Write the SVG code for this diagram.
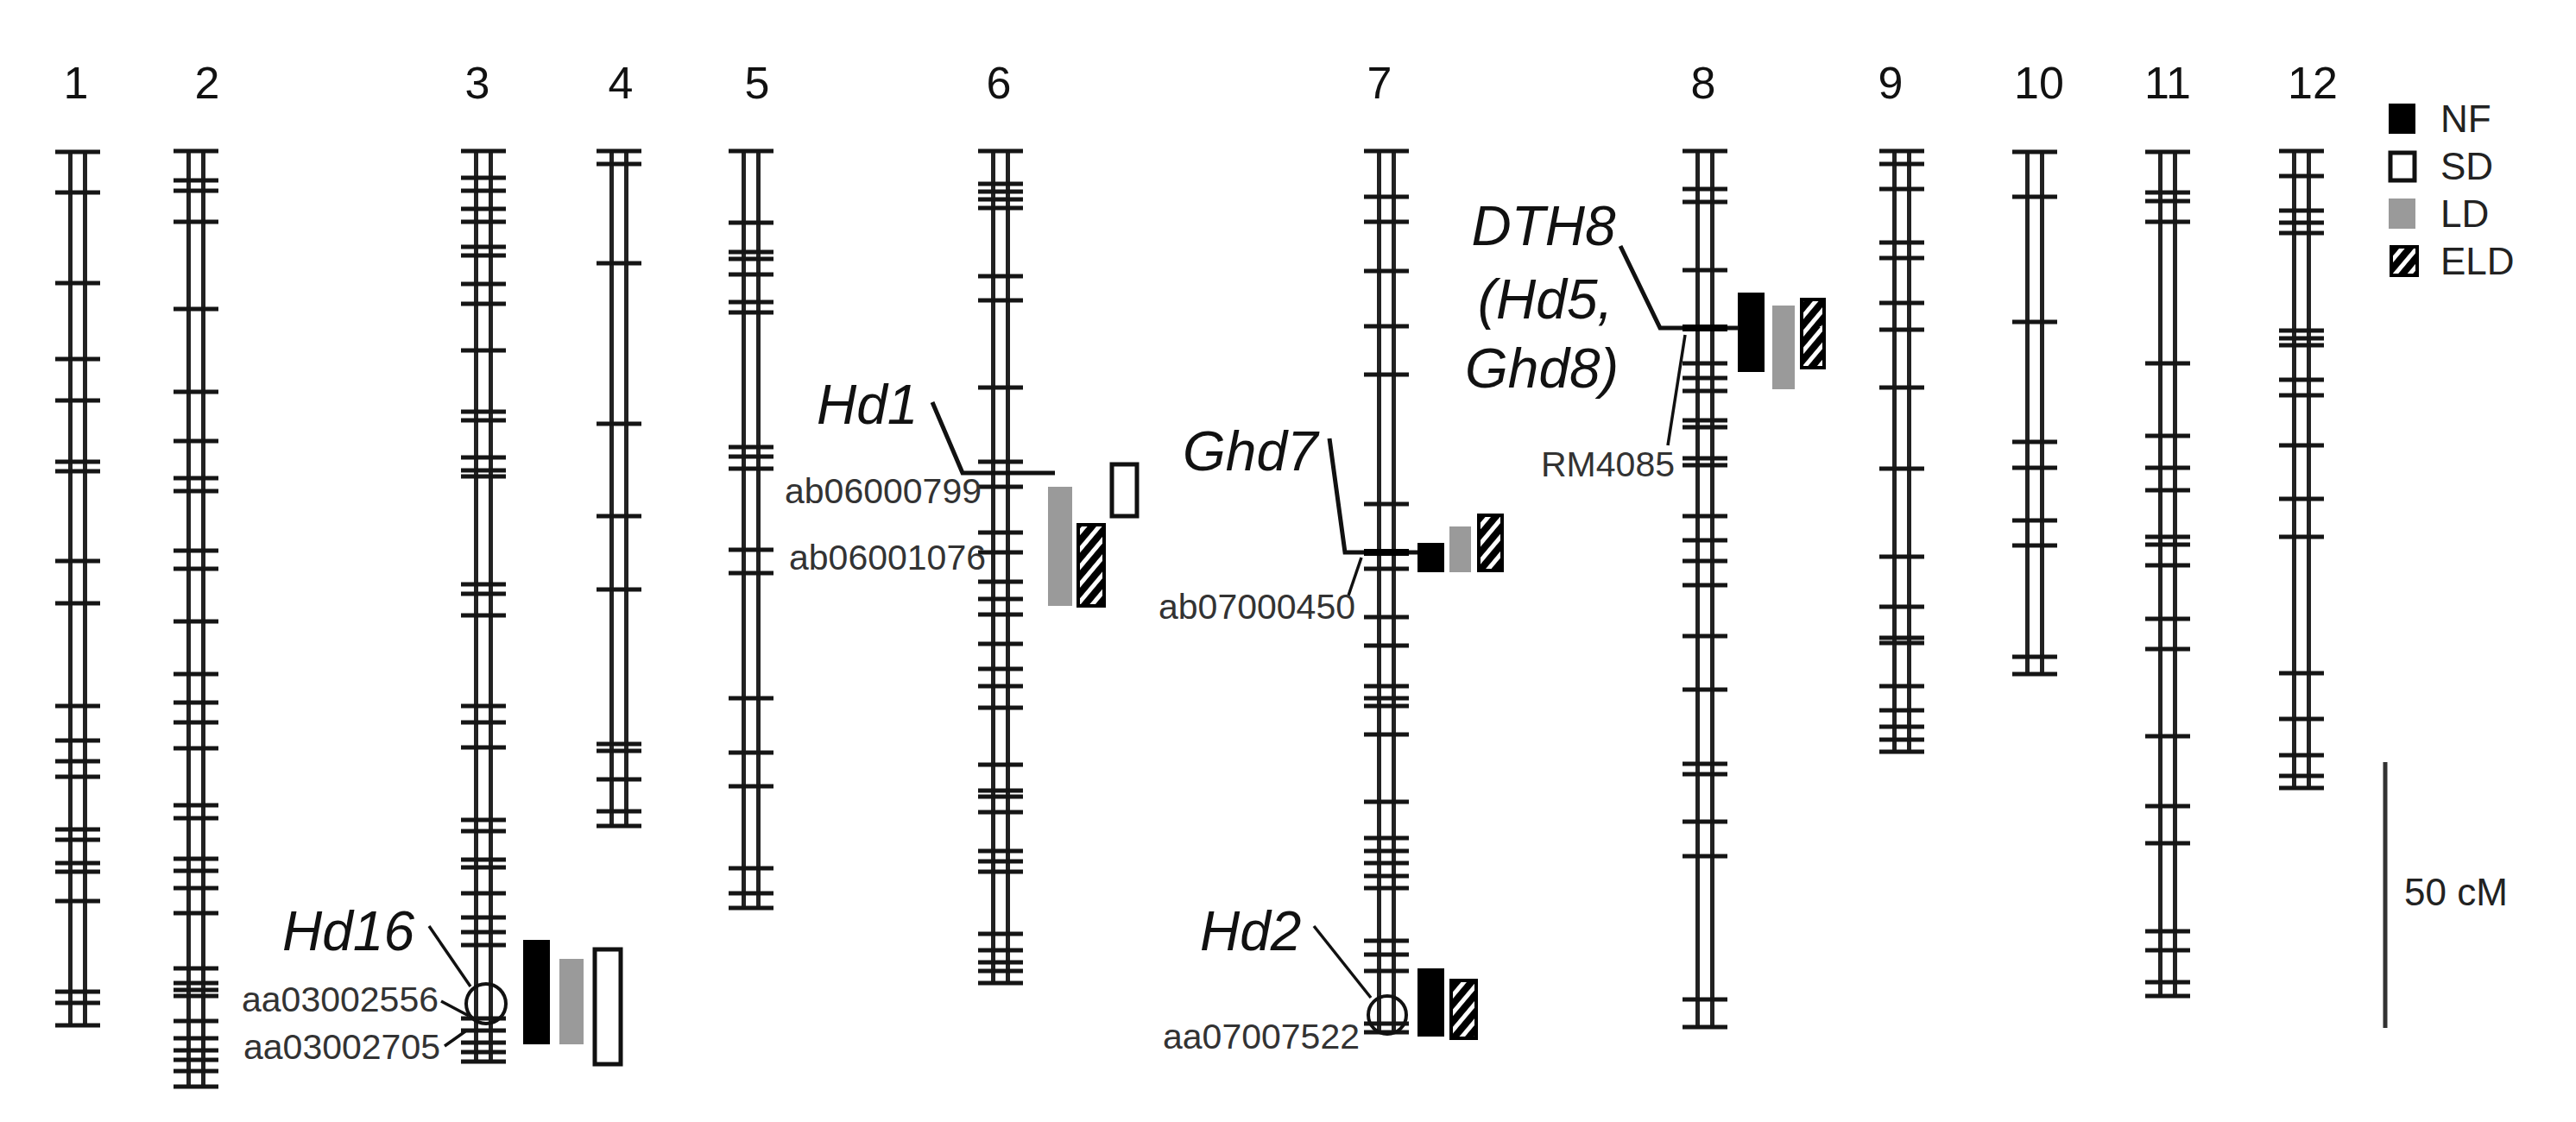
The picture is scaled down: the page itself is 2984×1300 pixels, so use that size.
<svg xmlns="http://www.w3.org/2000/svg" width="2984" height="1300" viewBox="0 0 2984 1300">
<style>
.rail{stroke:#222;stroke-width:5;fill:none}
.tick{stroke:#151515;stroke-width:5;fill:none}
.num{font-family:"Liberation Sans",Arial,sans-serif;font-size:52px;fill:#111;text-anchor:middle}
.gene{font-family:"Liberation Sans",Arial,sans-serif;font-size:64px;font-style:italic;fill:#111}
.mk{font-family:"Liberation Sans",Arial,sans-serif;font-size:41px;fill:#333;text-anchor:end}
.lg{font-family:"Liberation Sans",Arial,sans-serif;font-size:44px;fill:#222}
.lead{stroke:#111;stroke-width:3.5;fill:none}
.mline{stroke:#111;stroke-width:5;fill:none}
.nf{fill:#000}
.ld{fill:#9a9a9a}
.sd{fill:#fff;stroke:#111;stroke-width:5}
.eld{fill:url(#hatch);stroke:#000;stroke-width:4}
</style>
<defs>
<pattern id="hatch" patternUnits="userSpaceOnUse" width="13" height="13" patternTransform="rotate(40)">
<rect width="13" height="13" fill="#000"/><rect width="5" height="13" fill="#fff"/>
</pattern>
</defs>
<rect width="2984" height="1300" fill="#fff"/>

<g id="labels">
<text class="num" x="88" y="114">1</text>
<text class="num" x="240" y="114">2</text>
<text class="num" x="553" y="114">3</text>
<text class="num" x="719" y="114">4</text>
<text class="num" x="877" y="114">5</text>
<text class="num" x="1157" y="114">6</text>
<text class="num" x="1598" y="114">7</text>
<text class="num" x="1973" y="114">8</text>
<text class="num" x="2190" y="114">9</text>
<text class="num" x="2362" y="114">10</text>
<text class="num" x="2511" y="114">11</text>
<text class="num" x="2679" y="114">12</text>
</g>

<g id="chr1">
<path class="rail" d="M81.5 176V1188M98.5 176V1188"/>
<path class="tick" d="M64 176h52M64 223h52M64 328h52M64 416h52M64 464h52M64 535h52M64 546h52M64 650h52M64 699h52M64 818h52M64 858h52M64 882h52M64 900h52M64 961h52M64 973h52M64 1000h52M64 1010h52M64 1044h52M64 1149h52M64 1162h52M64 1188h52"/>
</g>
<g id="chr2">
<path class="rail" d="M218.5 175V1259M235.5 175V1259"/>
<path class="tick" d="M201 175h52M201 209h52M201 221h52M201 257h52M201 358h52M201 454h52M201 511h52M201 554h52M201 569h52M201 638h52M201 659h52M201 720h52M201 781h52M201 814h52M201 837h52M201 867h52M201 933h52M201 948h52M201 995h52M201 1009h52M201 1029h52M201 1058h52M201 1122h52M201 1139h52M201 1147h52M201 1154h52M201 1183h52M201 1203h52M201 1217h52M201 1228h52M201 1241h52M201 1259h52"/>
</g>
<g id="chr3">
<path class="rail" d="M551.5 175V1230M568.5 175V1230"/>
<path class="tick" d="M534 175h52M534 206h52M534 221h52M534 242h52M534 257h52M534 286h52M534 296h52M534 329h52M534 352h52M534 406h52M534 477h52M534 487h52M534 530h52M534 545h52M534 552h52M534 677h52M534 688h52M534 713h52M534 818h52M534 837h52M534 866h52M534 950h52M534 963h52M534 996h52M534 1005h52M534 1035h52M534 1063h52M534 1080h52M534 1095h52M534 1180h52M534 1194h52M534 1208h52M534 1219h52M534 1230h52"/>
</g>
<g id="chr4">
<path class="rail" d="M708.5 175V957M725.5 175V957"/>
<path class="tick" d="M691 175h52M691 190h52M691 305h52M691 491h52M691 598h52M691 683h52M691 862h52M691 870h52M691 903h52M691 940h52M691 957h52"/>
</g>
<g id="chr5">
<path class="rail" d="M861.5 175V1052M878.5 175V1052"/>
<path class="tick" d="M844 175h52M844 258h52M844 292h52M844 300h52M844 318h52M844 350h52M844 362h52M844 518h52M844 529h52M844 543h52M844 637h52M844 664h52M844 809h52M844 872h52M844 911h52M844 1006h52M844 1035h52M844 1052h52"/>
</g>
<g id="chr6">
<path class="rail" d="M1150.5 175V1139M1167.5 175V1139"/>
<path class="tick" d="M1133 175h52M1133 213h52M1133 222h52M1133 231h52M1133 241h52M1133 320h52M1133 348h52M1133 449h52M1133 535h52M1133 564h52M1133 617h52M1133 640h52M1133 674h52M1133 694h52M1133 712h52M1133 746h52M1133 775h52M1133 795h52M1133 820h52M1133 886h52M1133 916h52M1133 923h52M1133 941h52M1133 986h52M1133 998h52M1133 1010h52M1133 1082h52M1133 1101h52M1133 1115h52M1133 1125h52M1133 1139h52"/>
</g>
<g id="chr7">
<path class="rail" d="M1597.5 175V1196M1614.5 175V1196"/>
<path class="tick" d="M1580 175h52M1580 228h52M1580 257h52M1580 314h52M1580 378h52M1580 434h52M1580 584h52M1580 659h52M1580 715h52M1580 748h52M1580 795h52M1580 809h52M1580 818h52M1580 851h52M1580 929h52M1580 971h52M1580 986h52M1580 1000h52M1580 1015h52M1580 1029h52M1580 1090h52M1580 1106h52M1580 1125h52M1580 1186h52M1580 1196h52"/>
</g>
<g id="chr8">
<path class="rail" d="M1966.5 175V1190M1983.5 175V1190"/>
<path class="tick" d="M1949 175h52M1949 219h52M1949 234h52M1949 313h52M1949 421h52M1949 438h52M1949 453h52M1949 487h52M1949 495h52M1949 531h52M1949 539h52M1949 598h52M1949 626h52M1949 650h52M1949 678h52M1949 737h52M1949 799h52M1949 885h52M1949 897h52M1949 952h52M1949 992h52M1949 1158h52M1949 1190h52"/>
</g>
<g id="chr9">
<path class="rail" d="M2194.5 175V871M2211.5 175V871"/>
<path class="tick" d="M2177 175h52M2177 190h52M2177 219h52M2177 281h52M2177 299h52M2177 351h52M2177 382h52M2177 449h52M2177 543h52M2177 645h52M2177 703h52M2177 739h52M2177 745h52M2177 795h52M2177 823h52M2177 842h52M2177 857h52M2177 871h52"/>
</g>
<g id="chr10">
<path class="rail" d="M2348.5 176V781M2365.5 176V781"/>
<path class="tick" d="M2331 176h52M2331 228h52M2331 373h52M2331 512h52M2331 542h52M2331 603h52M2331 632h52M2331 761h52M2331 781h52"/>
</g>
<g id="chr11">
<path class="rail" d="M2502.5 176V1154M2519.5 176V1154"/>
<path class="tick" d="M2485 176h52M2485 223h52M2485 233h52M2485 257h52M2485 421h52M2485 505h52M2485 542h52M2485 568h52M2485 622h52M2485 631h52M2485 655h52M2485 717h52M2485 752h52M2485 853h52M2485 934h52M2485 977h52M2485 1079h52M2485 1101h52M2485 1138h52M2485 1154h52"/>
</g>
<g id="chr12">
<path class="rail" d="M2657.5 175V913M2674.5 175V913"/>
<path class="tick" d="M2640 175h52M2640 204h52M2640 244h52M2640 258h52M2640 270h52M2640 383h52M2640 392h52M2640 400h52M2640 440h52M2640 458h52M2640 516h52M2640 578h52M2640 622h52M2640 780h52M2640 833h52M2640 875h52M2640 899h52M2640 913h52"/>
</g>

<g id="qtl-hd16">
<rect class="nf" x="606" y="1089" width="31" height="121"/>
<rect class="ld" x="648" y="1111" width="28" height="99"/>
<rect class="sd" x="689" y="1100" width="30" height="133"/>
</g>
<g id="qtl-hd1">
<rect class="ld" x="1214" y="564" width="28" height="138"/>
<rect class="eld" x="1249" y="608" width="30" height="94"/>
<rect class="sd" x="1288" y="538" width="29" height="60"/>
</g>
<g id="qtl-ghd7">
<rect class="nf" x="1642" y="629" width="31" height="34"/>
<rect class="ld" x="1679" y="610" width="25" height="53"/>
<rect class="eld" x="1713" y="597" width="27" height="64"/>
</g>
<g id="qtl-hd2">
<rect class="nf" x="1642" y="1122" width="31" height="79"/>
<rect class="eld" x="1681" y="1136" width="29" height="67"/>
</g>
<g id="qtl-dth8">
<rect class="nf" x="2013" y="339" width="31" height="92"/>
<rect class="ld" x="2053" y="354" width="26" height="97"/>
<rect class="eld" x="2087" y="347" width="26" height="79"/>
</g>

<g id="connectors">
<polyline class="mline" points="1080,466 1115,548 1222,548"/>
<polyline class="mline" points="1540,508 1558,640 1642,640"/>
<line x1="1580" y1="640" x2="1632" y2="640" stroke="#000" stroke-width="8"/>
<polyline class="mline" points="1877,285 1923,380 2014,380"/>
<line x1="1949" y1="380" x2="2001" y2="380" stroke="#000" stroke-width="8"/>
<line class="lead" x1="1932" y1="516" x2="1952" y2="388"/>
<line class="lead" x1="497" y1="1073" x2="545" y2="1143"/>
<line class="lead" x1="1522" y1="1073" x2="1588" y2="1156"/>
<line class="lead" x1="511" y1="1160" x2="543" y2="1177" stroke-width="2.5"/>
<line class="lead" x1="515" y1="1212" x2="539" y2="1195" stroke-width="2.5"/>
<line class="lead" x1="1562" y1="690" x2="1577" y2="646" stroke-width="2.5"/>
<circle cx="563" cy="1163" r="23" fill="none" stroke="#111" stroke-width="4"/>
<circle cx="1607" cy="1176" r="22" fill="none" stroke="#111" stroke-width="4"/>
</g>

<g id="gene-labels">
<text class="gene" x="327" y="1101">Hd16</text>
<text class="gene" x="946" y="491">Hd1</text>
<text class="gene" x="1370" y="545">Ghd7</text>
<text class="gene" x="1390" y="1101">Hd2</text>
<text class="gene" x="1788" y="284" text-anchor="middle">DTH8</text>
<text class="gene" x="1790" y="369" text-anchor="middle">(Hd5,</text>
<text class="gene" x="1786" y="449" text-anchor="middle">Ghd8)</text>
</g>

<g id="marker-labels">
<text class="mk" x="508" y="1172">aa03002556</text>
<text class="mk" x="510" y="1227">aa03002705</text>
<text class="mk" x="1137" y="583">ab06000799</text>
<text class="mk" x="1142" y="660">ab06001076</text>
<text class="mk" x="1570" y="717">ab07000450</text>
<text class="mk" x="1575" y="1215">aa07007522</text>
<text class="mk" x="1940" y="552" font-size="40">RM4085</text>
</g>

<g id="legend">
<rect class="nf" x="2767" y="120" width="31" height="35"/>
<text class="lg" x="2827" y="153">NF</text>
<rect class="sd" x="2769" y="177" width="28" height="32"/>
<text class="lg" x="2827" y="208">SD</text>
<rect class="ld" x="2767" y="230" width="31" height="35"/>
<text class="lg" x="2827" y="263">LD</text>
<rect class="eld" x="2770" y="286" width="30" height="33"/>
<text class="lg" x="2827" y="318">ELD</text>
</g>

<g id="scale">
<line x1="2763" y1="883" x2="2763" y2="1191" stroke="#333" stroke-width="5"/>
<text class="lg" x="2785" y="1049" font-size="48">50 cM</text>
</g>
</svg>
